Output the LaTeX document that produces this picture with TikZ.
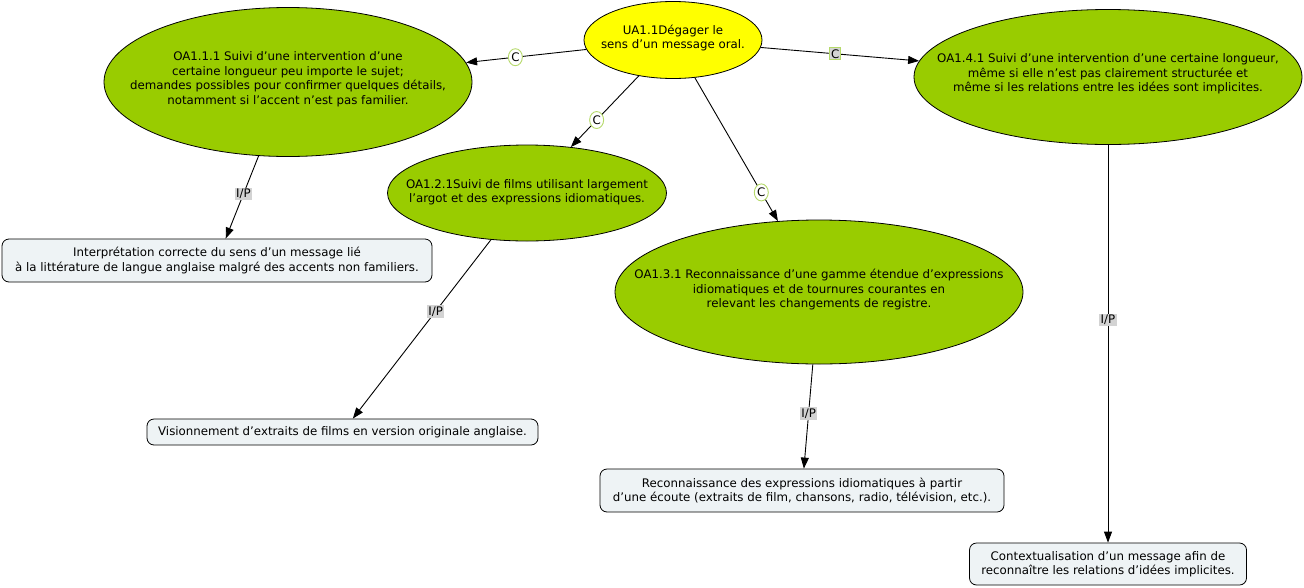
\documentclass[tikz,border=0pt]{standalone}
\usepackage{fontspec}
\setmainfont{DejaVu Sans}
\usetikzlibrary{arrows.meta,shapes.geometric}
\definecolor{leaf}{HTML}{99CC00}
\definecolor{sun}{HTML}{FFFF00}
\definecolor{boxfill}{HTML}{EEF3F5}
\definecolor{lblgrey}{HTML}{D3D3D3}
\definecolor{lblgreen}{HTML}{B5D96A}
\tikzset{
  every node/.style={font=\fontsize{11.8}{14.5}\selectfont, inner sep=0pt},
  oval/.style={ellipse, draw=black, line width=0.8pt},
  otext/.style={align=center},
  rbox/.style={rectangle, rounded corners=7pt, draw=black, line width=0.8pt, fill=boxfill, align=center},
  conn/.style={draw=black, line width=0.9pt, -{Triangle[length=11pt,width=8pt]}},
  clbl/.style={ellipse, draw=lblgreen, fill=white, line width=0.9pt, minimum width=14pt, minimum height=17pt, inner sep=0pt},
  clblsq/.style={rectangle, draw=lblgreen, fill=lblgrey, line width=0.9pt, inner sep=1.5pt},
  iplbl/.style={rectangle, fill=lblgrey, inner sep=1.5pt},
}
\begin{document}
\begin{tikzpicture}[x=1pt,y=-1pt]
\useasboundingbox (0,0) rectangle (1304,587);
\node[oval, fill=sun, minimum width=178pt, minimum height=77pt] (ua) at (673,40) {};
\node[otext] (uat) at (673,38) {UA1.1Dégager le\\sens d’un message oral.};
\node[oval, fill=leaf, minimum width=368pt, minimum height=149pt] (oa11) at (288,82) {};
\node[otext] (oa11t) at (288,79) {OA1.1.1 Suivi d’une intervention d’une\\certaine longueur peu importe le sujet;\\demandes possibles pour confirmer quelques détails,\\notamment si l’accent n’est pas familier.};
\node[oval, fill=leaf, minimum width=388pt, minimum height=135pt] (oa14) at (1108,77) {};
\node[otext] (oa14t) at (1108,74) {OA1.4.1 Suivi d’une intervention d’une certaine longueur,\\même si elle n’est pas clairement structurée et\\même si les relations entre les idées sont implicites.};
\node[oval, fill=leaf, minimum width=279pt, minimum height=96pt] (oa12) at (527,193) {};
\node[otext] (oa12t) at (527,192) {OA1.2.1Suivi de films utilisant largement\\l’argot et des expressions idiomatiques.};
\node[oval, fill=leaf, minimum width=408pt, minimum height=144pt] (oa13) at (819,292) {};
\node[otext] (oa13t) at (819,290) {OA1.3.1 Reconnaissance d’une gamme étendue d’expressions\\idiomatiques et de tournures courantes en\\relevant les changements de registre.};
\node[rbox, minimum width=430pt, minimum height=43pt] (b1) at (217,260.5) {Interprétation correcte du sens d’un message lié\\à la littérature de langue anglaise malgré des accents non familiers.};
\node[rbox, minimum width=391pt, minimum height=26pt] (b2) at (342.5,432) {Visionnement d’extraits de films en version originale anglaise.};
\node[rbox, minimum width=404pt, minimum height=43pt] (b3) at (802,490.5) {Reconnaissance des expressions idiomatiques à partir\\d’une écoute (extraits de film, chansons, radio, télévision, etc.).};
\node[rbox, minimum width=277pt, minimum height=42pt] (b4) at (1108,564) {Contextualisation d’un message afin de\\reconnaître les relations d’idées implicites.};
\path[conn] (ua) -- node[clbl, pos=0.59] (c1) {C} (oa11);
\path[conn] (ua) -- node[clblsq, pos=0.47] (c2) {C} (oa14);
\path[conn] (ua) -- node[clbl, pos=0.62] (c3) {C} (oa12);
\path[conn] (ua) -- node[clbl, pos=0.8] (c4) {C} (oa13);
\path[conn] (oa11) -- node[iplbl, pos=0.46] (p1) {I/P} (b1);
\path[conn] (oa12) -- node[iplbl, pos=0.4] (p2) {I/P} (b2);
\path[conn] (oa13) -- node[iplbl, pos=0.47] (p3) {I/P} (b3);
\path[conn] (oa14) -- node[iplbl, pos=0.44] (p4) {I/P} (b4);
\end{tikzpicture}
\end{document}
